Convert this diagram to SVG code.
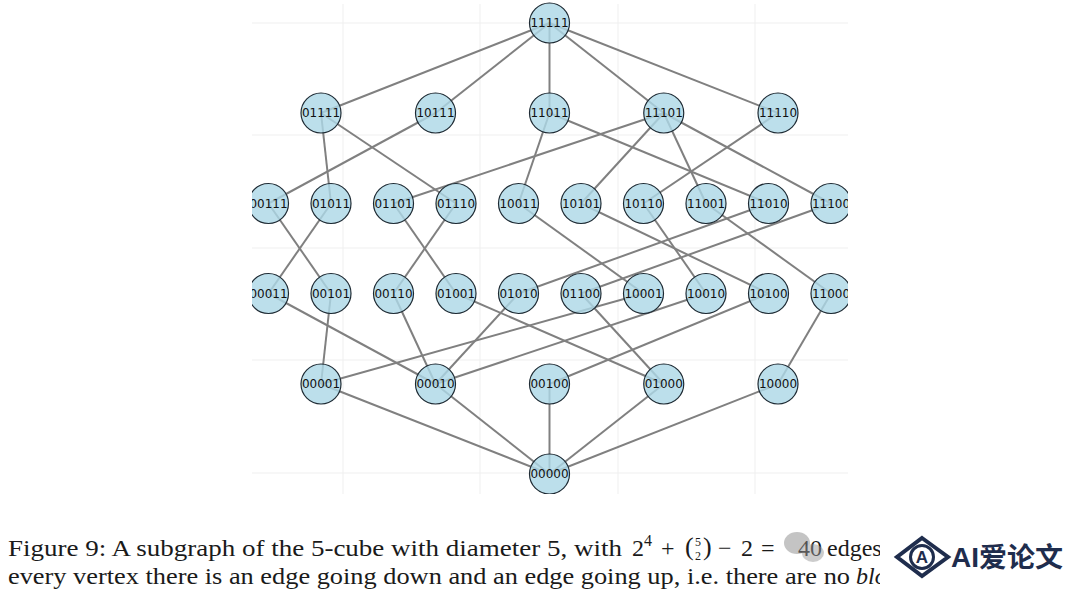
<svg xmlns="http://www.w3.org/2000/svg" width="1080" height="596" viewBox="0 0 1080 596">
<defs>
<style>
.grid{stroke:#efefef;stroke-width:1;fill:none}
.e{stroke:#808080;stroke-width:2;fill:none}
.n circle{fill:#add8e6;fill-opacity:0.82;stroke:#1e2a33;stroke-width:1.2}
.n text{font-family:"DejaVu Sans",sans-serif;font-size:12px;fill:#111;text-anchor:middle;dominant-baseline:central}
.cap{font-family:"Liberation Serif","Times New Roman",serif;font-size:24px;fill:#1a1a1a}
</style>
<clipPath id="plot"><rect x="252" y="0" width="596" height="494"/></clipPath>
<clipPath id="capclip"><rect x="0" y="520" width="880" height="76"/></clipPath>
</defs>
<rect width="1080" height="596" fill="#fff"/>
<g clip-path="url(#plot)">
<g id="grid" class="grid">
<line x1="343" y1="4" x2="343" y2="494"/><line x1="480" y1="4" x2="480" y2="494"/><line x1="618" y1="4" x2="618" y2="494"/><line x1="755" y1="4" x2="755" y2="494"/>
<line x1="252" y1="23" x2="848" y2="23"/><line x1="252" y1="135" x2="848" y2="135"/><line x1="252" y1="248" x2="848" y2="248"/><line x1="252" y1="360" x2="848" y2="360"/><line x1="252" y1="473" x2="848" y2="473"/>
</g>
<g id="connectors" class="e">
<line x1="549.5" y1="23" x2="321" y2="113"/><line x1="549.5" y1="23" x2="435.5" y2="113"/><line x1="549.5" y1="23" x2="549.5" y2="113"/><line x1="549.5" y1="23" x2="663.75" y2="113"/><line x1="549.5" y1="23" x2="778" y2="113"/>
<line x1="321" y1="113" x2="331" y2="203.5"/><line x1="321" y1="113" x2="456" y2="203.5"/><line x1="435.5" y1="113" x2="268.5" y2="203.5"/><line x1="549.5" y1="113" x2="518.5" y2="203.5"/><line x1="549.5" y1="113" x2="768.5" y2="203.5"/>
<line x1="663.75" y1="113" x2="393.5" y2="203.5"/><line x1="663.75" y1="113" x2="581" y2="203.5"/><line x1="663.75" y1="113" x2="706" y2="203.5"/><line x1="663.75" y1="113" x2="831" y2="203.5"/><line x1="778" y1="113" x2="643.5" y2="203.5"/>
<line x1="268.5" y1="203.5" x2="331" y2="293.5"/><line x1="331" y1="203.5" x2="268.5" y2="293.5"/><line x1="393.5" y1="203.5" x2="456" y2="293.5"/><line x1="456" y1="203.5" x2="393.5" y2="293.5"/><line x1="518.5" y1="203.5" x2="643.5" y2="293.5"/>
<line x1="581" y1="203.5" x2="768.5" y2="293.5"/><line x1="643.5" y1="203.5" x2="706" y2="293.5"/><line x1="706" y1="203.5" x2="831" y2="293.5"/><line x1="768.5" y1="203.5" x2="518.5" y2="293.5"/><line x1="831" y1="203.5" x2="581" y2="293.5"/>
<line x1="268.5" y1="293.5" x2="435.5" y2="384"/><line x1="331" y1="293.5" x2="321" y2="384"/><line x1="393.5" y1="293.5" x2="435.5" y2="384"/><line x1="456" y1="293.5" x2="663.75" y2="384"/><line x1="518.5" y1="293.5" x2="435.5" y2="384"/>
<line x1="581" y1="293.5" x2="663.75" y2="384"/><line x1="643.5" y1="293.5" x2="321" y2="384"/><line x1="706" y1="293.5" x2="435.5" y2="384"/><line x1="768.5" y1="293.5" x2="549.5" y2="384"/><line x1="831" y1="293.5" x2="778" y2="384"/>
<line x1="321" y1="384" x2="549.5" y2="474"/><line x1="435.5" y1="384" x2="549.5" y2="474"/><line x1="549.5" y1="384" x2="549.5" y2="474"/><line x1="663.75" y1="384" x2="549.5" y2="474"/><line x1="778" y1="384" x2="549.5" y2="474"/>
</g>
<g id="n11111" class="n"><circle cx="549.5" cy="23" r="20"/><text x="549.5" y="23">11111</text></g>
<g id="n01111" class="n"><circle cx="321" cy="113" r="20"/><text x="321" y="113">01111</text></g>
<g id="n10111" class="n"><circle cx="435.5" cy="113" r="20"/><text x="435.5" y="113">10111</text></g>
<g id="n11011" class="n"><circle cx="549.5" cy="113" r="20"/><text x="549.5" y="113">11011</text></g>
<g id="n11101" class="n"><circle cx="663.75" cy="113" r="20"/><text x="663.75" y="113">11101</text></g>
<g id="n11110" class="n"><circle cx="778" cy="113" r="20"/><text x="778" y="113">11110</text></g>
<g id="n00111" class="n"><circle cx="268.5" cy="203.5" r="20"/><text x="268.5" y="203.5">00111</text></g>
<g id="n01011" class="n"><circle cx="331" cy="203.5" r="20"/><text x="331" y="203.5">01011</text></g>
<g id="n01101" class="n"><circle cx="393.5" cy="203.5" r="20"/><text x="393.5" y="203.5">01101</text></g>
<g id="n01110" class="n"><circle cx="456" cy="203.5" r="20"/><text x="456" y="203.5">01110</text></g>
<g id="n10011" class="n"><circle cx="518.5" cy="203.5" r="20"/><text x="518.5" y="203.5">10011</text></g>
<g id="n10101" class="n"><circle cx="581" cy="203.5" r="20"/><text x="581" y="203.5">10101</text></g>
<g id="n10110" class="n"><circle cx="643.5" cy="203.5" r="20"/><text x="643.5" y="203.5">10110</text></g>
<g id="n11001" class="n"><circle cx="706" cy="203.5" r="20"/><text x="706" y="203.5">11001</text></g>
<g id="n11010" class="n"><circle cx="768.5" cy="203.5" r="20"/><text x="768.5" y="203.5">11010</text></g>
<g id="n11100" class="n"><circle cx="831" cy="203.5" r="20"/><text x="831" y="203.5">11100</text></g>
<g id="n00011" class="n"><circle cx="268.5" cy="293.5" r="20"/><text x="268.5" y="293.5">00011</text></g>
<g id="n00101" class="n"><circle cx="331" cy="293.5" r="20"/><text x="331" y="293.5">00101</text></g>
<g id="n00110" class="n"><circle cx="393.5" cy="293.5" r="20"/><text x="393.5" y="293.5">00110</text></g>
<g id="n01001" class="n"><circle cx="456" cy="293.5" r="20"/><text x="456" y="293.5">01001</text></g>
<g id="n01010" class="n"><circle cx="518.5" cy="293.5" r="20"/><text x="518.5" y="293.5">01010</text></g>
<g id="n01100" class="n"><circle cx="581" cy="293.5" r="20"/><text x="581" y="293.5">01100</text></g>
<g id="n10001" class="n"><circle cx="643.5" cy="293.5" r="20"/><text x="643.5" y="293.5">10001</text></g>
<g id="n10010" class="n"><circle cx="706" cy="293.5" r="20"/><text x="706" y="293.5">10010</text></g>
<g id="n10100" class="n"><circle cx="768.5" cy="293.5" r="20"/><text x="768.5" y="293.5">10100</text></g>
<g id="n11000" class="n"><circle cx="831" cy="293.5" r="20"/><text x="831" y="293.5">11000</text></g>
<g id="n00001" class="n"><circle cx="321" cy="384" r="20"/><text x="321" y="384">00001</text></g>
<g id="n00010" class="n"><circle cx="435.5" cy="384" r="20"/><text x="435.5" y="384">00010</text></g>
<g id="n00100" class="n"><circle cx="549.5" cy="384" r="20"/><text x="549.5" y="384">00100</text></g>
<g id="n01000" class="n"><circle cx="663.75" cy="384" r="20"/><text x="663.75" y="384">01000</text></g>
<g id="n10000" class="n"><circle cx="778" cy="384" r="20"/><text x="778" y="384">10000</text></g>
<g id="n00000" class="n"><circle cx="549.5" cy="474" r="20"/><text x="549.5" y="474">00000</text></g>
</g>
<g id="caption" clip-path="url(#capclip)">
<text class="cap" x="8" y="556" textLength="614" lengthAdjust="spacingAndGlyphs">Figure 9:  A subgraph of the 5-cube with diameter 5, with</text>
<text class="cap" x="632" y="556">2</text>
<text class="cap" x="644" y="546" style="font-size:16px">4</text>
<text class="cap" x="661" y="556">+</text>
<text class="cap" x="685" y="555" style="font-size:26px">(</text>
<text class="cap" x="695" y="545.5" style="font-size:12px">5</text>
<text class="cap" x="695" y="559.5" style="font-size:12px">2</text>
<text class="cap" x="703" y="555" style="font-size:26px">)</text>
<text class="cap" x="718" y="556">−</text>
<text class="cap" x="741" y="556">2</text>
<text class="cap" x="761" y="556">=</text>
<text class="cap" x="798" y="556">40</text>
<text class="cap" x="827" y="556">edges</text>
<text class="cap" x="8" y="584" textLength="842" lengthAdjust="spacingAndGlyphs">every vertex there is an edge going down and an edge going up, i.e. there are no</text>
<text class="cap" x="856" y="584" style="font-style:italic">blo</text>
<g id="watermark" opacity="0.5">
<ellipse cx="797" cy="543" rx="13" ry="11" fill="#8a8a8a"/>
<ellipse cx="813" cy="553" rx="11" ry="9" fill="#9a9a9a"/>
</g>
</g>
<g id="logo">
<polygon points="922,538 948,557 922,576 897,557" fill="none" stroke="#1f2d4d" stroke-width="4" stroke-linejoin="miter"/>
<circle cx="922" cy="557" r="11.5" fill="#fff" stroke="#1f2d4d" stroke-width="3"/>
<text x="922" y="563" style="font-family:'Liberation Sans',sans-serif;font-weight:bold;font-size:17px;fill:#1f2d4d;text-anchor:middle">A</text>
<text x="951" y="567" textLength="112" lengthAdjust="spacingAndGlyphs" style="font-family:'Liberation Sans','Noto Sans CJK SC',sans-serif;font-weight:bold;font-size:27px;fill:#1f2d4d">AI爱论文</text>
</g>
</svg>
